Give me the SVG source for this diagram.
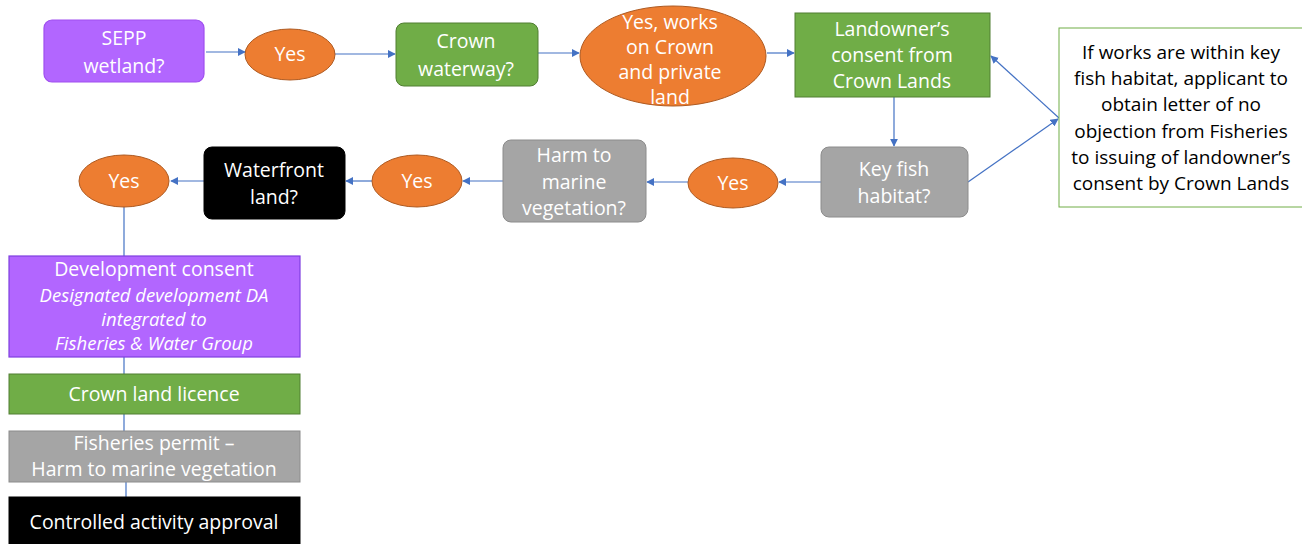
<svg xmlns="http://www.w3.org/2000/svg" width="1302" height="544" viewBox="0 0 1302 544">
<style>
text{font-family:"Open Sans","Liberation Sans",sans-serif;font-size:19.5px;text-anchor:middle;fill:#fff}
.purple{fill:#b266ff;stroke:#9f4fef;stroke-width:1.2}
.orange{fill:#ed7d31;stroke:#ae5a21;stroke-width:1}
.green{fill:#70ad47;stroke:#507e32;stroke-width:1}
.gray{fill:#a5a5a5;stroke:#8c8c8c;stroke-width:1}
.black{fill:#000;stroke:#000;stroke-width:1}
.note{fill:#fff;stroke:#70ad47;stroke-width:1}
text.dark{fill:#000;font-size:19px}
.c{stroke:#4472c4;stroke-width:1.2;fill:none}
.i{font-style:italic;font-size:18.5px}
</style>
<defs>
<marker id="ah" viewBox="0 0 10 10" refX="9" refY="5" markerWidth="8" markerHeight="8" markerUnits="userSpaceOnUse" orient="auto">
<path d="M0,0 L10,5 L0,10 z" fill="#4472c4"/>
</marker>
</defs>
<rect width="1302" height="544" fill="#fff"/>
<g id="connectors">
<line class="c" x1="206" y1="52" x2="245" y2="52" marker-end="url(#ah)"/>
<line class="c" x1="335" y1="54" x2="395" y2="54" marker-end="url(#ah)"/>
<line class="c" x1="538" y1="53" x2="579" y2="53" marker-end="url(#ah)"/>
<line class="c" x1="767" y1="53" x2="794" y2="53" marker-end="url(#ah)"/>
<line class="c" x1="894" y1="97" x2="894" y2="146" marker-end="url(#ah)"/>
<line class="c" x1="1059" y1="118" x2="991" y2="56" marker-end="url(#ah)"/>
<line class="c" x1="968" y1="182" x2="1058" y2="119" marker-end="url(#ah)"/>
<line class="c" x1="821" y1="182" x2="779" y2="182" marker-end="url(#ah)"/>
<line class="c" x1="688" y1="182" x2="647" y2="182" marker-end="url(#ah)"/>
<line class="c" x1="503" y1="181" x2="463" y2="181" marker-end="url(#ah)"/>
<line class="c" x1="372" y1="181" x2="346" y2="181" marker-end="url(#ah)"/>
<line class="c" x1="204" y1="181" x2="171" y2="181" marker-end="url(#ah)"/>
<line class="c" x1="124" y1="207" x2="124" y2="256"/>
<line class="c" x1="124" y1="357" x2="124" y2="374"/>
<line class="c" x1="124" y1="414" x2="124" y2="431"/>
<line class="c" x1="126" y1="482" x2="126" y2="497"/>
</g>
<g id="sepp">
<rect class="purple" x="44" y="20" width="160" height="62" rx="8"/>
<text x="124" y="45">SEPP</text>
<text x="124" y="73">wetland?</text>
</g>
<g id="yes1">
<ellipse class="orange" cx="290" cy="54.5" rx="45" ry="25.5"/>
<text x="290" y="61">Yes</text>
</g>
<g id="crownwaterway">
<rect class="green" x="396" y="23" width="142" height="63" rx="8"/>
<text x="466" y="48">Crown</text>
<text x="466" y="76">waterway?</text>
</g>
<g id="yes2">
<ellipse class="orange" cx="673" cy="56" rx="93" ry="50"/>
<text x="670" y="29">Yes, works</text>
<text x="670" y="54">on Crown</text>
<text x="670" y="79">and private</text>
<text x="670" y="104">land</text>
</g>
<g id="landowner">
<rect class="green" x="795" y="13" width="195" height="84"/>
<text x="892" y="36">Landowner’s</text>
<text x="892" y="62">consent from</text>
<text x="892" y="88">Crown Lands</text>
</g>
<g id="note">
<rect class="note" x="1059" y="28" width="250" height="179"/>
<text class="dark" x="1181" y="59">If works are within key</text>
<text class="dark" x="1181" y="85">fish habitat, applicant to</text>
<text class="dark" x="1181" y="111">obtain letter of no</text>
<text class="dark" x="1181" y="138">objection from Fisheries</text>
<text class="dark" x="1181" y="164">to issuing of landowner’s</text>
<text class="dark" x="1181" y="190">consent by Crown Lands</text>
</g>
<g id="keyfish">
<rect class="gray" x="821" y="147" width="147" height="70" rx="8"/>
<text x="894" y="176">Key fish</text>
<text x="894" y="203">habitat?</text>
</g>
<g id="yes3">
<ellipse class="orange" cx="733" cy="183" rx="45" ry="25"/>
<text x="733" y="190">Yes</text>
</g>
<g id="harm">
<rect class="gray" x="503" y="140" width="143" height="82" rx="8"/>
<text x="574" y="162">Harm to</text>
<text x="574" y="189">marine</text>
<text x="574" y="215">vegetation?</text>
</g>
<g id="yes4">
<ellipse class="orange" cx="417" cy="181" rx="45" ry="26"/>
<text x="417" y="188">Yes</text>
</g>
<g id="waterfront">
<rect class="black" x="204" y="147" width="141" height="72" rx="8"/>
<text x="274" y="177">Waterfront</text>
<text x="274" y="204">land?</text>
</g>
<g id="yes5">
<ellipse class="orange" cx="124" cy="181" rx="45" ry="26"/>
<text x="124" y="188">Yes</text>
</g>
<g id="devconsent">
<rect class="purple" x="9" y="256" width="291" height="101" style="stroke:#7f3fdf"/>
<text x="154" y="276">Development consent</text>
<text class="i" x="154" y="302">Designated development DA</text>
<text class="i" x="154" y="326">integrated to</text>
<text class="i" x="154" y="350">Fisheries &amp; Water Group</text>
</g>
<g id="crownlicence">
<rect class="green" x="9" y="374" width="291" height="40"/>
<text x="154" y="401">Crown land licence</text>
</g>
<g id="fisheriespermit">
<rect class="gray" x="9" y="431" width="291" height="51"/>
<text x="154" y="450">Fisheries permit –</text>
<text x="154" y="476">Harm to marine vegetation</text>
</g>
<g id="controlled">
<rect class="black" x="9" y="497" width="291" height="50"/>
<text x="154" y="529">Controlled activity approval</text>
</g>
</svg>
